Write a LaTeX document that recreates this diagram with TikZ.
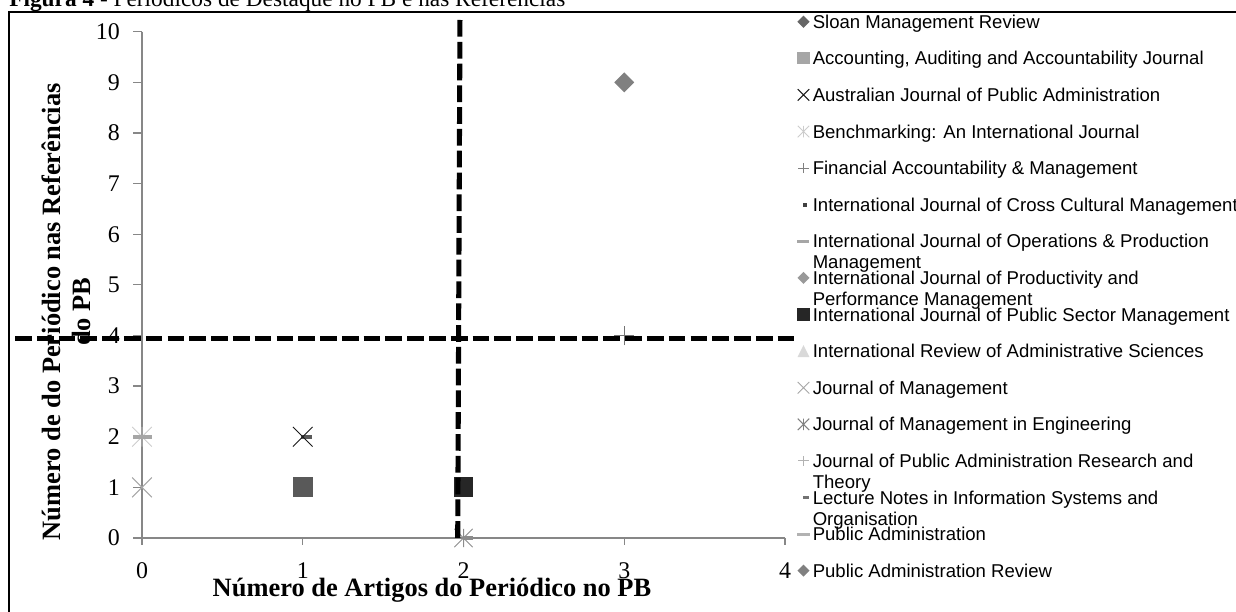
\documentclass[tikz,border=0pt]{standalone}
\usepackage{fontspec}
\setmainfont{Liberation Serif}
\newfontfamily\legfont{Liberation Sans}
\tikzset{
  pics/mkdiamond/.style 2 args={code={\fill[#1] (0,#2) -- (#2,0) -- (0,-#2) -- (-#2,0) -- cycle;}},
  pics/mksquare/.style 2 args={code={\fill[#1] (-#2,-#2) rectangle (#2,#2);}},
  pics/mktri/.style 2 args={code={\fill[#1] (-#2,-#2) -- (#2,-#2) -- (0,#2) -- cycle;}},
  pics/mkcross/.style 2 args={code={\draw[#1,line width=0.7pt] (-#2,-#2) -- (#2,#2) (-#2,#2) -- (#2,-#2);}},
  pics/mkstar/.style 2 args={code={\draw[#1,line width=0.7pt] (-#2,-#2) -- (#2,#2) (-#2,#2) -- (#2,-#2) (0,-#2) -- (0,#2);}},
  pics/mkplus/.style 2 args={code={\draw[#1,line width=0.7pt] (-#2,0) -- (#2,0) (0,-#2) -- (0,#2);}},
  pics/mkbar/.style n args={4}{code={\fill[#1] (#2,-#4) rectangle (#3,#4);}},
  quadline/.style={line width=3.6pt, dash pattern=on 11.9pt off 3.6pt},
  axisline/.style={draw=black!47, line width=0.9pt},
  ticklab/.style={inner sep=0pt, font=\fontsize{17}{20}\selectfont},
  legentry/.style={anchor=base west, inner sep=0pt, align=left, font=\legfont\fontsize{13.2}{15}\selectfont},
  legtwo/.style={legentry, yshift=-15pt},
}
\begin{document}
\begin{tikzpicture}[x=4.01875cm, y=1.26575cm]
			\useasboundingbox (-0.8834,-1.4616) rectangle (6.8056,10.6261);
			% frame and title
			\draw[line width=1.4pt] (-0.8274,-1.6) -- (-0.8274,10.389) -- (6.9,10.389);
			\node[anchor=base west, inner sep=0pt, font=\fontsize{16.6}{19}\selectfont] (title) at (-0.8274,10.494) {\textbf{Figura 4} - Periódicos de Destaque no PB e nas Referências};
			% axes
			\draw[axisline] (0,10) -- (0,0) -- (4,0);
			\foreach \y in {0,...,10} {
				\draw[axisline] (0,\y) -- ++(-6.4pt,0);
				\node[ticklab, anchor=east] (yl\y) at ([xshift=-15.6pt]0,\y) {\y};
			}
			\foreach \x in {0,...,4} {
				\draw[axisline] (\x,0) -- ++(0,-5pt);
				\node[ticklab] (xl\x) at (\x,-0.640) {\x};
			}
			\node[anchor=base, inner sep=0pt, font=\fontsize{18.8}{21.3}\selectfont\bfseries] (xtitle) at (1.804,-1.165) {Número de Artigos do Periódico no PB};
			\node[rotate=90, anchor=base, align=center, inner sep=0pt, font=\fontsize{18.8}{21.3}\selectfont\bfseries] (ytitle) at (-0.3235,4.47) {Número de do Periódico nas Referências\\do PB};
			% points
			\pic at (3,9) {mkdiamond={black!50}{7.1pt}};
			\pic at (3,4) {mkplus={black!55}{7pt}};
			\pic at (1,1) {mksquare={black!65}{7.1pt}};
			\pic at (2,1) {mksquare={black!85}{7.1pt}};
			\pic at (1,2) {mkbar={black!65}{-0.9pt}{6.9pt}{1.4pt}};
			\pic at (1,2) {mkcross={black!90}{7pt}};
			\pic at (0,2) {mkstar={black!20}{7pt}};
			\pic at (0,2) {mkbar={black!35}{-6.6pt}{6.9pt}{1.4pt}};
			\pic at (0,1) {mkcross={black!35}{7pt}};
			\pic at (2,0) {mkstar={black!45}{6.5pt}};
			\pic at (2,0) {mkbar={black!45}{0pt}{6.6pt}{1.4pt}};
			% quadrant lines
			\draw[quadline] (1.978,10.231) -- (1.964,0);
			\draw[quadline] (-0.790,3.944) -- (4.062,3.944);
			% legend
			\pic at (4.115,10.197) {mkdiamond={black!60}{4.3pt}};
			\pic at (4.115,9.474) {mksquare={black!35}{4.3pt}};
			\pic at (4.115,8.751) {mkcross={black!90}{4.1pt}};
			\pic at (4.115,8.028) {mkstar={black!20}{4.1pt}};
			\pic at (4.115,7.305) {mkplus={black!50}{3.6pt}};
			\pic at (4.115,6.583) {mkbar={black!75}{-0.6pt}{2.7pt}{1.4pt}};
			\pic at (4.115,5.860) {mkbar={black!35}{-4.8pt}{4.1pt}{1.1pt}};
			\pic at (4.115,5.137) {mkdiamond={black!40}{4.3pt}};
			\pic at (4.115,4.414) {mksquare={black!85}{4.3pt}};
			\pic at (4.115,3.691) {mktri={black!15}{4.2pt}};
			\pic at (4.115,2.968) {mkcross={black!35}{4.1pt}};
			\pic at (4.115,2.245) {mkstar={black!50}{4.1pt}};
			\pic at (4.115,1.522) {mkplus={black!30}{3.6pt}};
			\pic at (4.115,0.799) {mkbar={black!55}{-0.6pt}{4.1pt}{1.1pt}};
			\pic at (4.115,0.077) {mkbar={black!30}{-4.8pt}{4.6pt}{1.1pt}};
			\pic at (4.115,-0.646) {mkdiamond={black!50}{4.3pt}};
			\node[legentry] (leg1) at (4.171,10.067) {Sloan Management Review};
			\node[legentry] (leg2) at (4.171,9.344) {Accounting, Auditing and Accountability Journal};
			\node[legentry] (leg3) at (4.171,8.621) {Australian Journal of Public Administration};
			\node[legentry] (leg4) at (4.171,7.898) {Benchmarking: An International Journal};
			\node[legentry] (leg5) at (4.171,7.175) {Financial Accountability \& Management};
			\node[legentry] (leg6) at (4.171,6.453) {International Journal of Cross Cultural Management};
			\node[legtwo] (leg7) at (4.171,5.730) {International Journal of Operations \& Production\\Management};
			\node[legtwo] (leg8) at (4.171,5.007) {International Journal of Productivity and\\Performance Management};
			\node[legentry] (leg9) at (4.171,4.284) {International Journal of Public Sector Management};
			\node[legentry] (leg10) at (4.171,3.561) {International Review of Administrative Sciences};
			\node[legentry] (leg11) at (4.171,2.838) {Journal of Management};
			\node[legentry] (leg12) at (4.171,2.115) {Journal of Management in Engineering};
			\node[legtwo] (leg13) at (4.171,1.392) {Journal of Public Administration Research and\\Theory};
			\node[legtwo] (leg14) at (4.171,0.669) {Lecture Notes in Information Systems and\\Organisation};
			\node[legentry] (leg15) at (4.171,-0.053) {Public Administration};
			\node[legentry] (leg16) at (4.171,-0.776) {Public Administration Review};
		\end{tikzpicture}
\end{document}
